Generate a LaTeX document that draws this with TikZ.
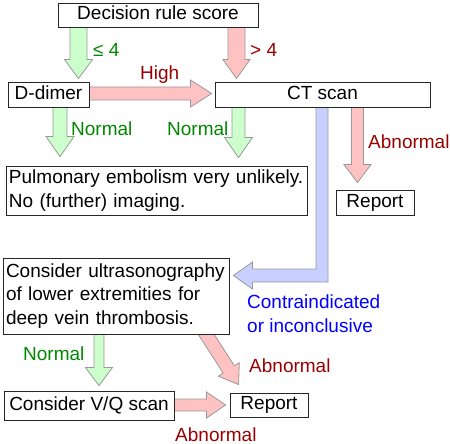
\documentclass[tikz,border=0pt]{standalone}
\usepackage{fontspec}
\setmainfont{Liberation Sans}
\usetikzlibrary{calc,backgrounds}
\definecolor{gfill}{HTML}{CCFFCC}
\definecolor{rfill}{HTML}{FFC2C2}
\definecolor{bfill}{HTML}{C8D0FF}
\definecolor{gtext}{HTML}{008800}
\definecolor{rtext}{HTML}{990000}
\definecolor{btext}{HTML}{0000FF}
\definecolor{aline}{HTML}{999999}
% #1 style, #2 start, #3 tip, #4 half shaft, #5 half head, #6 head length
\newcommand\fatarrow[6]{%
  \path (#3) coordinate (fa-t) (#2) coordinate (fa-s);
  \path ($(fa-t)!#6!(fa-s)$) coordinate (fa-b);
  \draw[#1] ($(fa-s)!#4!90:(fa-t)$) -- ($(fa-b)!#4!90:(fa-t)$) -- ($(fa-b)!#5!90:(fa-t)$)
    -- (fa-t) -- ($(fa-b)!#5!-90:(fa-t)$) -- ($(fa-b)!#4!-90:(fa-t)$)
    -- ($(fa-s)!#4!-90:(fa-t)$) -- cycle;}
\tikzset{
  box/.style={draw=black!85, line width=0.9pt, fill=white, inner sep=0pt,
    font=\fontsize{19}{24}\selectfont},
  one/.style={text height=13.9pt, text depth=4pt},
  lbl/.style={inner sep=0pt, anchor=base west, font=\fontsize{19}{23.5}\selectfont},
  garr/.style={fill=gfill, draw=aline, line width=0.8pt, line join=miter},
  rarr/.style={fill=rfill, draw=aline, line width=0.8pt, line join=miter},
  barr/.style={fill=bfill, draw=aline, line width=0.8pt, line join=miter},
}
\begin{document}
\begin{tikzpicture}[x=1pt,y=-1pt]
\useasboundingbox (0,0) rectangle (450,444);
% boxes
\node[box,one,minimum width=200pt,minimum height=24pt] (dec) at (158,15) {Decision rule score};
\node[box,one,minimum width=81pt,minimum height=25pt] (dd) at (48.5,94.5) {D-dimer};
\node[box,one,minimum width=215pt,minimum height=25pt] (ct) at (322.5,94.5) {CT scan};
\node[box,minimum width=301pt,minimum height=49pt,align=left,text width=295pt] (pe) at (156.5,190.5)
  {Pulmonary embolism very unlikely.\\No (further) imaging.};
\node[box,one,minimum width=78pt,minimum height=25pt] (rep1) at (375,202.5) {Report};
\node[box,minimum width=226pt,minimum height=76pt,align=left,text width=220pt,
  font=\fontsize{19}{23.5}\selectfont] (us) at (116,296)
  {Consider ultrasonography\\of lower extremities for\\deep vein thrombosis.};
\node[box,one,minimum width=170pt,minimum height=29pt] (vq) at (89,405.5) {Consider V/Q scan};
\node[box,one,minimum width=78pt,minimum height=24pt] (rep2) at (269,405) {Report};
% labels
\node[lbl,text=gtext] (l1) at (93,57) {≤ 4};
\node[lbl,text=rtext] (l2) at (250,57) {> 4};
\node[lbl,text=rtext] (l3) at (140,80) {High};
\node[lbl,text=gtext] (l4) at (71,135) {Normal};
\node[lbl,text=gtext] (l5) at (167,135) {Normal};
\node[lbl,text=rtext] (l6) at (368,148) {Abnormal};
\node[lbl,text=btext] (l7) at (247,308) {Contraindicated};
\node[lbl,text=btext] (l7b) at (247,332) {or inconclusive};
\node[lbl,text=gtext] (l8) at (23,360) {Normal};
\node[lbl,text=rtext] (l9) at (249,372) {Abnormal};
\node[lbl,text=rtext] (l10) at (175,441) {Abnormal};
% arrows
\begin{scope}[on background layer]
\fatarrow{garr}{$(78.5,0 |- dec.south)+(0,-2)$}{$(78.5,0 |- dd.north)+(0,-3)$}{8.5pt}{14pt}{19pt}
\fatarrow{rarr}{$(236.5,0 |- dec.south)+(0,-2)$}{$(236.5,0 |- ct.north)+(0,-3)$}{8.5pt}{13.5pt}{19pt}
\fatarrow{rarr}{$(dd.east |- 0,93.5)+(-2,0)$}{$(ct.west |- 0,93.5)+(-3,0)$}{6.5pt}{13.5pt}{21pt}
\fatarrow{garr}{$(60,0 |- dd.south)+(0,-2)$}{$(60,0 |- pe.north)+(0,-9)$}{7pt}{14pt}{20pt}
\fatarrow{garr}{$(238.5,0 |- ct.south)+(0,-2)$}{$(238.5,0 |- pe.north)+(0,-8)$}{6.5pt}{14pt}{20pt}
\fatarrow{rarr}{$(357.5,0 |- ct.south)+(0,-2)$}{$(357.5,0 |- rep1.north)+(0,-7)$}{6pt}{13.5pt}{18pt}
\fatarrow{garr}{$(99,0 |- us.south)+(0,-2)$}{$(99,0 |- vq.north)+(0,-5)$}{5pt}{13.5pt}{18pt}
\fatarrow{rarr}{$(us.south)+(80,-16)$}{$(rep2.north west)+(9,-8)$}{6.7pt}{12.5pt}{18pt}
\fatarrow{rarr}{$(vq.east |- 0,405)+(-2,0)$}{$(rep2.west |- 0,405)+(-4,0)$}{6pt}{13pt}{19pt}
% blue L-shaped arrow
\coordinate (bend) at (322,275.5);
\coordinate (btip) at ($(bend -| us.east)+(4,0)$);
\draw[barr] ($(bend |- ct.south)+(-6,-2)$) -- ($(bend)+(-6,-6.5)$)
  -- ($(btip |- bend)+(19,-6.5)$) -- ($(btip)+(19,-13.5)$) -- (btip)
  -- ($(btip)+(19,13.5)$) -- ($(btip |- bend)+(19,6.5)$) -- ($(bend)+(6,6.5)$)
  -- ($(bend |- ct.south)+(6,-2)$) -- cycle;
\end{scope}
\end{tikzpicture}
\end{document}
